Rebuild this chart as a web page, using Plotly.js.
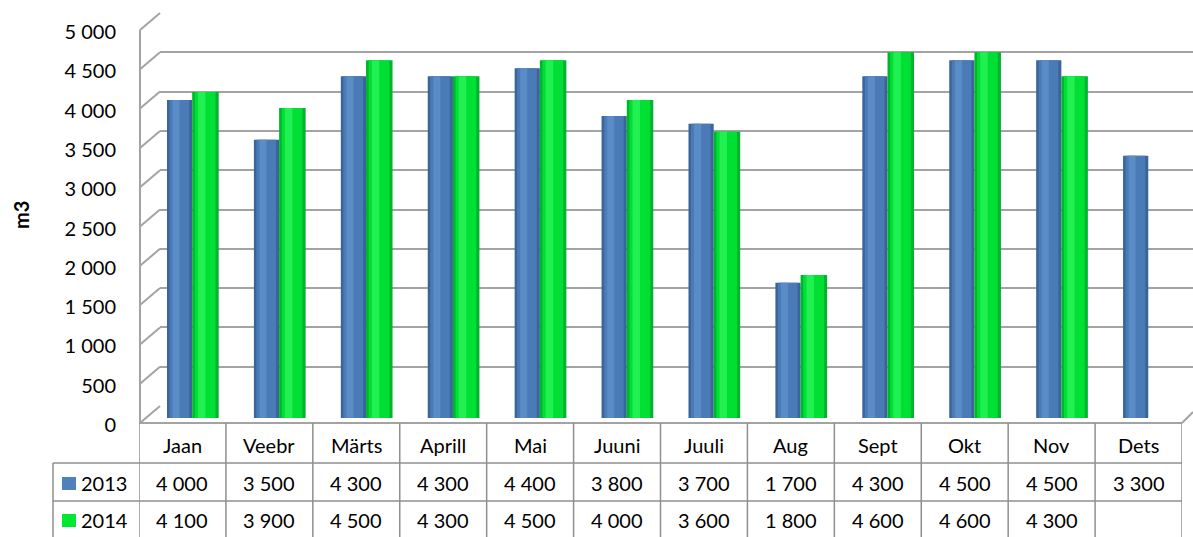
<!DOCTYPE html>
<html>
<head>
<meta charset="utf-8">
<script src="https://cdn.plot.ly/plotly-3.0.1.min.js"></script>
<style>html,body{margin:0;padding:0;background:#fff;}#chart{width:1193px;height:537px;}</style>
</head>
<body>
<div id="chart"></div>
<script>
const categories = ['Jaan','Veebr','Märts','Aprill','Mai','Juuni','Juuli','Aug','Sept','Okt','Nov','Dets'];
const series2013 = [4000,3500,4300,4300,4400,3800,3700,1700,4300,4500,4500,3300];
const series2014 = [4100,3900,4500,4300,4500,4000,3600,1800,4600,4600,4300,null];
const seriesNames = ['2013','2014'];
const yTickValues = [0,500,1000,1500,2000,2500,3000,3500,4000,4500,5000];
const yTitle = 'm3';

const W = 1193, H = 537;
const px = x => x / W;
const py = y => 1 - y / H;
const FONT = 'Lato, "Liberation Sans", sans-serif';
const GRID = '#a3a3a3';
const TABLE = '#8f8f8f';

function fmt(v) {
  if (v === null || v === undefined) return '';
  const s = String(Math.round(v));
  return s.replace(/\B(?=(\d{3})+(?!\d))/g, ' ');
}

// geometry (pixels)
const backTop = 13, backBottom = 406;     // back wall 5000 .. 0
const frontShift = 17, sideX0 = 140, sideX1 = 160;
const barTop = 20.5, barBottom = 418;      // bar scale 5000 .. 0
const labTop = 32, labBottom = 425;        // tick labels 5000 .. 0
const colLeft = 139, colRight = 1182;
const rowHeaderY = 445, row1Y = 483, row2Y = 520;
const lineTop = 423, line1 = 463, line2 = 501, legLeft = 53;
const yMax = yTickValues[yTickValues.length - 1];

const seriesStyle = [
  {values: series2013, offset: -0.178, width: 0.29, colors: ['#3a6598', '#4a7bb7', '#5a8cc8']},
  {values: series2014, offset: 0.112, width: 0.305, colors: ['#00b42e', '#00e034', '#22f052']}
];
const layers = [[0, 1], [0.1, 0.88], [0.22, 0.5]];

const traces = [];
traces.push({x: [], y: [], type: 'scatter', xaxis: 'x', yaxis: 'y', hoverinfo: 'skip', showlegend: false});
traces.push({x: [], y: [], type: 'scatter', xaxis: 'x3', yaxis: 'y3', hoverinfo: 'skip', showlegend: false});
seriesStyle.forEach((s, i) => {
  layers.forEach((l, j) => {
    traces.push({
      type: 'bar', x: categories, y: s.values, xaxis: 'x2', yaxis: 'y2',
      name: seriesNames[i], showlegend: false, hoverinfo: 'skip',
      width: s.width * (l[1] - l[0]), offset: s.offset + s.width * l[0],
      marker: {color: s.colors[j], line: {width: 0}}
    });
  });
});

const shapes = [];
const line = (x0, y0, x1, y1, color, w, xref) => shapes.push({
  type: 'line', xref: xref || 'paper', yref: 'paper', x0: x0, y0: y0, x1: x1, y1: y1,
  line: {color: color, width: w}, layer: 'above'
});
line(px(sideX0), py(backBottom + frontShift), px(sideX0), py(backTop + frontShift), GRID, 2);
yTickValues.forEach(v => {
  const yb = backBottom - (backBottom - backTop) * v / yMax;
  line(px(sideX0), py(yb + frontShift), px(sideX1), py(yb), GRID, 2);
});
line(px(colLeft), py(lineTop), px(colRight), py(lineTop), GRID, 2);
line(px(colRight), py(lineTop), px(1193), py(lineTop - 11), GRID, 2);
line(px(legLeft), py(line1), px(colRight), py(line1), TABLE, 1.5);
line(px(legLeft), py(line2), px(colRight), py(line2), TABLE, 1.5);
line(px(legLeft), py(line1), px(legLeft), py(H + 2), TABLE, 1.5);
for (let k = 0; k <= categories.length; k++) {
  line(k - 0.5, py(lineTop), k - 0.5, py(H + 2), TABLE, 1.5, 'x2');
}
const keyColors = ['#4f81bd', '#00e832'];
[row1Y, row2Y].forEach((yc, i) => {
  shapes.push({type: 'rect', xref: 'paper', yref: 'paper', x0: px(62), x1: px(76),
    y0: py(yc + 7), y1: py(yc - 6), fillcolor: keyColors[i], line: {width: 0}});
});

const annotations = [];
const tf = {family: FONT, size: 20, color: '#000'};
categories.forEach((c, k) => {
  annotations.push({xref: 'x2', yref: 'paper', x: k, y: py(rowHeaderY), text: c, showarrow: false, font: tf, xanchor: 'center', yanchor: 'middle'});
  annotations.push({xref: 'x2', yref: 'paper', x: k, y: py(row1Y), text: fmt(series2013[k]), showarrow: false, font: tf, xanchor: 'center', yanchor: 'middle'});
  annotations.push({xref: 'x2', yref: 'paper', x: k, y: py(row2Y), text: fmt(series2014[k]), showarrow: false, font: tf, xanchor: 'center', yanchor: 'middle'});
});
[row1Y, row2Y].forEach((yc, i) => {
  annotations.push({xref: 'paper', yref: 'paper', x: px(79), y: py(yc), text: seriesNames[i], showarrow: false, font: tf, xanchor: 'left', yanchor: 'middle'});
});
annotations.push({xref: 'paper', yref: 'paper', x: px(21), y: py(215), text: '<b>' + yTitle + '</b>', textangle: -90, showarrow: false,
  font: {family: FONT, size: 20, color: '#000'}, xanchor: 'center', yanchor: 'middle'});

const hidden = {showgrid: false, zeroline: false, showline: false, showticklabels: false, ticks: ''};
const layout = {
  width: W, height: H, autosize: false,
  margin: {l: 0, r: 0, t: 0, b: 0, pad: 0},
  paper_bgcolor: '#ffffff', plot_bgcolor: 'rgba(0,0,0,0)',
  barmode: 'overlay', hovermode: false, showlegend: false,
  font: {family: FONT, size: 20, color: '#000'},
  xaxis: Object.assign({}, hidden, {domain: [px(sideX1), 1], range: [0, 1], anchor: 'y'}),
  yaxis: Object.assign({}, hidden, {domain: [py(backBottom), py(backTop)], range: [0, yMax], anchor: 'x',
    showgrid: true, tickvals: yTickValues, gridcolor: GRID, gridwidth: 2}),
  xaxis2: Object.assign({}, hidden, {domain: [px(colLeft), px(colRight)], range: [-0.5, categories.length - 0.5], anchor: 'y2', type: 'category'}),
  yaxis2: Object.assign({}, hidden, {domain: [py(barBottom), py(barTop)], range: [0, yMax], anchor: 'x2'}),
  xaxis3: Object.assign({}, hidden, {domain: [px(117), px(colRight)], range: [0, 1], anchor: 'y3'}),
  yaxis3: Object.assign({}, hidden, {domain: [py(labBottom), py(labTop)], range: [0, yMax], anchor: 'x3',
    showticklabels: true, tickvals: yTickValues, ticktext: yTickValues.map(fmt), tickfont: tf}),
  shapes: shapes, annotations: annotations
};
Plotly.newPlot('chart', traces, layout, {displayModeBar: false, staticPlot: true});
</script>
</body>
</html>
